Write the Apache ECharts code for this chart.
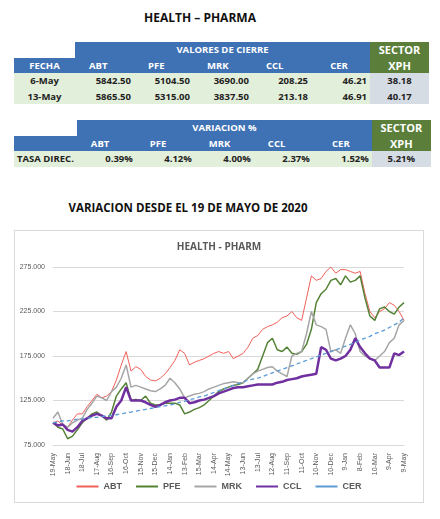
<!DOCTYPE html>
<html><head><meta charset="utf-8">
<script src="https://cdn.jsdelivr.net/npm/echarts@6/dist/echarts.min.js"></script>
<style>
body{margin:0;width:440px;height:519px;background:#fff;font-family:"Open Sans","Liberation Sans",sans-serif;position:relative;overflow:hidden}
.t{position:absolute;font-weight:bold;color:#111}
table{position:absolute;left:14px;border-collapse:collapse;table-layout:fixed;font-size:9.5px;font-weight:bold}
td{height:15.5px;padding:0 3px;white-space:nowrap}
.b{background:#3f72b5;color:#fff}
.g{background:#5b7f3a;color:#fff;text-align:center;font-size:11px}
.d{background:#e2efda;text-align:right;color:#222}
.s{background:#d6dce4;text-align:center;color:#222}
#c{position:absolute;left:14px;top:230px;width:410px;height:273px;border:1px solid #d9d9d9;box-sizing:border-box}
</style></head><body>
<div class="t" style="left:0;width:400px;text-align:center;top:9px;font-size:12px">HEALTH – PHARMA</div>
<table id="t1" style="top:42px"></table>
<table id="t2" style="top:120px"></table>
<div class="t" style="left:0;width:376px;text-align:center;top:200px;font-size:11.5px">VARIACION DESDE EL 19 DE MAYO DE 2020</div>
<div id="c"></div>
<script>
const tickers=["ABT","PFE","MRK","CCL","CER"];
const fechas=["6-May","13-May"];
const cierre=[[5842.50,5104.50,3690.00,208.25,46.21,38.18],[5865.50,5315.00,3837.50,213.18,46.91,40.17]];
const variacion=[0.39,4.12,4.00,2.37,1.52,5.21];
const monthLabels=["19-May","18-Jun","18-Jul","17-Aug","16-Sep","16-Oct","15-Nov","15-Dec","14-Jan","13-Feb","15-Mar","14-Apr","14-May","13-Jun","13-Jul","12-Aug","11-Sep","11-Oct","10-Nov","10-Dec","9-Jan","8-Feb","10-Mar","9-Apr","9-May"];
const ABT=[100,102,97,95,103,110,110,118,125,132,128,130,135,148,165,180,158,163,160,152,148,147,150,155,162,170,182,178,165,168,170,172,175,178,180,178,180,172,175,178,185,195,198,205,208,210,213,218,220,225,218,215,240,265,260,262,270,275,268,272,272,270,268,270,245,225,218,225,228,235,232,225,215];
const PFE=[100,95,93,82,85,92,100,105,110,112,108,103,112,130,138,145,125,126,125,130,122,120,120,122,122,122,120,110,112,115,117,120,125,130,135,138,140,142,143,145,150,155,160,175,190,195,182,180,185,178,177,180,188,205,235,245,250,260,262,255,265,258,260,265,240,220,215,228,230,225,222,230,235];
const MRK=[105,112,98,95,100,103,105,115,122,130,128,125,135,140,150,165,140,142,140,138,136,135,138,142,150,145,138,128,130,132,133,135,138,140,142,144,145,146,145,145,150,155,158,160,162,163,158,155,152,175,178,180,200,225,210,208,205,180,182,178,195,210,200,180,175,172,170,175,180,190,195,210,215];
const CCL=[100,97,98,92,90,95,102,105,108,110,108,105,105,118,125,140,125,125,125,123,120,118,120,123,125,126,128,128,122,123,125,126,128,130,133,135,137,139,140,140,141,142,143,143,143,143,145,146,148,149,150,152,153,154,155,185,182,172,170,172,175,182,195,185,178,172,170,162,162,162,178,176,180];
const CER=[100,101,102,102,103,104,104,105,106,106,107,108,108,109,110,111,112,113,114,115,116,117,118,119,120,121,123,124,126,127,129,130,132,134,136,138,140,142,144,146,148,149,150,152,154,156,158,160,162,164,166,168,170,172,174,176,178,180,182,184,186,188,190,193,195,197,200,202,204,207,210,213,218];
const yTicks=[75,125,175,225,275];

const f2=v=>v.toFixed(2);
let h='<colgroup><col style="width:61px">'+'<col style="width:59px">'.repeat(6)+'</colgroup>';
h+='<tr><td></td><td class="b" colspan="5" style="text-align:center">VALORES DE CIERRE</td><td class="g">SECTOR</td></tr>';
h+='<tr><td class="b" style="text-align:center">FECHA</td>'+tickers.map((t,i)=>`<td class="b" style="text-align:${i==4?'center':'left'};padding-left:${i==4?0:14}px">${t}</td>`).join('')+'<td class="g">XPH</td></tr>';
fechas.forEach((f,r)=>{h+=`<tr><td class="d" style="text-align:center">${f}</td>`+cierre[r].slice(0,5).map(v=>`<td class="d">${f2(v)}</td>`).join('')+`<td class="s">${f2(cierre[r][5])}</td></tr>`;});
document.getElementById('t1').innerHTML=h;
let h2='<colgroup><col style="width:61px">'+'<col style="width:59px">'.repeat(6)+'</colgroup>';
h2+='<tr><td></td><td class="b" colspan="5" style="text-align:center">VARIACION %</td><td class="g">SECTOR</td></tr>';
h2+='<tr><td class="b"></td>'+tickers.map((t,i)=>`<td class="b" style="text-align:${i==4?'center':'left'};padding-left:${i==4?0:14}px">${t}</td>`).join('')+'<td class="g">XPH</td></tr>';
h2+='<tr><td class="d" style="text-align:left">TASA DIREC.</td>'+variacion.slice(0,5).map(v=>`<td class="d">${f2(v)}%</td>`).join('')+`<td class="s">${f2(variacion[5])}%</td></tr>`;
document.getElementById('t2').innerHTML=h2;

const cats=ABT.map((_,i)=>i%3===0?monthLabels[i/3]:'d'+i);
const chart=echarts.init(document.getElementById('c'));
const mk=(name,data,color,w,type)=>({name,type:'line',data,symbol:'none',lineStyle:{color,width:w,type:type||'solid'},itemStyle:{color}});
chart.setOption({
 animation:false,
 title:{text:'HEALTH - PHARM',left:'center',top:6,textStyle:{fontSize:10,fontWeight:'bold',color:'#595959',fontFamily:'Open Sans'}},
 legend:{bottom:6,itemWidth:22,itemHeight:2,itemGap:14,textStyle:{fontSize:9,fontWeight:'bold',color:'#595959'},icon:'path://M0,0H22V2H0Z',data:tickers},
 grid:{left:38,right:19,top:36,bottom:57},
 xAxis:{type:'category',boundaryGap:false,data:cats,axisTick:{show:false},axisLine:{lineStyle:{color:'#d9d9d9'}},
  axisLabel:{rotate:90,fontSize:7,color:'#595959',interval:(i)=>i%3===0,formatter:v=>v.startsWith('d')?'':v}},
 yAxis:{type:'value',min:75,max:275,interval:50,axisLabel:{fontSize:7,color:'#595959',formatter:v=>v.toFixed(3)},splitLine:{lineStyle:{color:'#d9d9d9'}}},
 series:[mk('ABT',ABT,'#f0605a',1),mk('PFE',PFE,'#548235',1.5),mk('MRK',MRK,'#a6a6a6',1.5),mk('CCL',CCL,'#7030a0',2.5),mk('CER',CER,'#5b9bd5',1.3,[4,3])]
});
</script></body></html>
